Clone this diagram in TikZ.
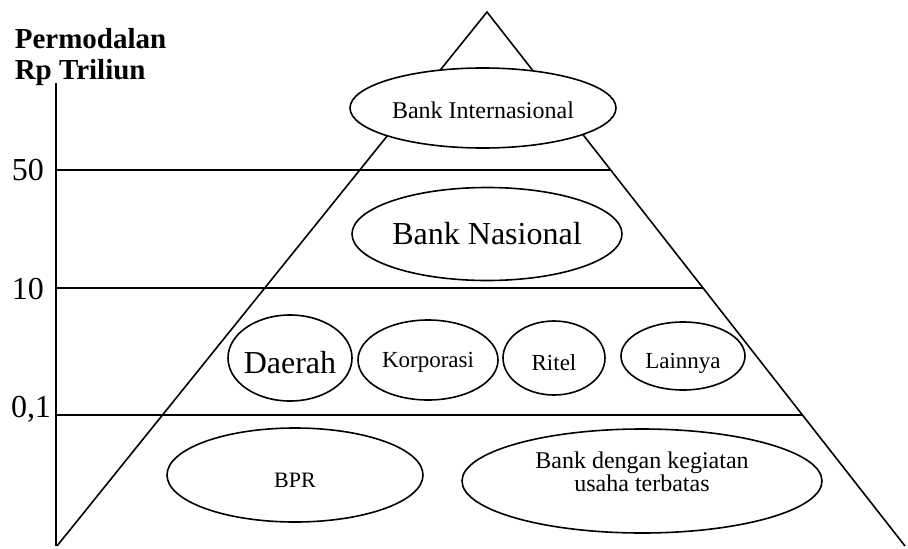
\documentclass[tikz,border=0pt]{standalone}
\usepackage{fontspec}
\setmainfont{Liberation Serif}
\usetikzlibrary{shapes.geometric,calc}
\tikzset{
  oval/.style={draw,ellipse,fill=white,inner sep=0pt,line width=1.6pt},
  capline/.style={text height=#1,text depth=0pt},
  ticklabel/.style={font=\fontsize{32}{34}\selectfont}
}
\begin{document}
\begin{tikzpicture}[x=1pt,y=-1pt,line width=1.6pt]
\useasboundingbox (0,0) rectangle (908,549);

% pyramid and axis
\coordinate (apex) at (487,12);
\coordinate (bl) at (57,546);
\coordinate (br) at (905,546);
\draw (bl) -- (apex) -- (br);
\draw (56,83) -- (56,546);

% capital limits
\draw (56,170) -- ($(apex)!{(170-12)/534}!(br)$);
\draw (56,288) -- ($(apex)!{(288-12)/534}!(br)$);
\draw (56,415) -- ($(apex)!{(415-12)/534}!(br)$);

\node[anchor=north west,align=left,inner sep=0pt,font=\fontsize{29}{31}\selectfont\bfseries] (title) at (14,28) {Permodalan\\Rp Triliun};
\node[ticklabel] (l50) at (28,170) {50};
\node[ticklabel] (l10) at (28,289) {10};
\node[ticklabel] (l01) at (31,409) {0,1};

% bank groups
\node[oval,capline=21pt,minimum width=266,minimum height=80,font=\fontsize{24}{26}\selectfont] (intl) at (483,108) {Bank Internasional};
\node[oval,capline=21pt,minimum width=270,minimum height=93,font=\fontsize{32}{34}\selectfont] (nas) at (487,234) {Bank Nasional};
\node[oval,capline=31pt,inner xsep=-5pt,minimum width=124,minimum height=86,font=\fontsize{32}{34}\selectfont] (daerah) at (290,358) {Daerah};
\node[oval,capline=15pt,minimum width=140,minimum height=80,font=\fontsize{23}{25}\selectfont] (korp) at (428,360) {Korporasi};
\node[oval,capline=25pt,minimum width=102,minimum height=74,font=\fontsize{23}{25}\selectfont] (ritel) at (554,358) {Ritel};
\node[oval,capline=25pt,minimum width=124,minimum height=68,font=\fontsize{23}{25}\selectfont] (lain) at (683,356) {Lainnya};
\node[oval,capline=25pt,minimum width=256,minimum height=94,font=\fontsize{22}{24}\selectfont] (bpr) at (295,475) {BPR};
\node[oval,text depth=18pt,minimum width=360,minimum height=104,align=center,font=\fontsize{24}{21}\selectfont] (terbatas) at (642,481) {Bank dengan kegiatan\\usaha terbatas};
\end{tikzpicture}
\end{document}
